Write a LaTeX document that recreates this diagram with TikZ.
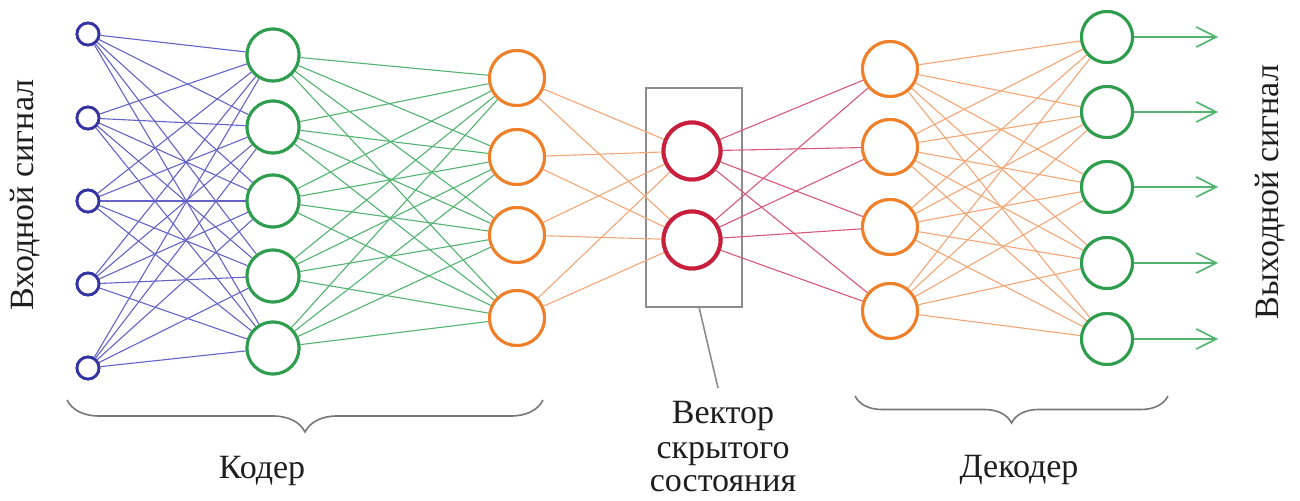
\documentclass[tikz,border=0pt]{standalone}
\usepackage{fontspec}
\setmainfont{Liberation Serif}
\usetikzlibrary{arrows.meta,decorations.pathreplacing}
\definecolor{cblue}{HTML}{3434A4}
\definecolor{cbluel}{HTML}{6464C8}
\definecolor{cgreen}{HTML}{2E9E4E}
\definecolor{cgreenl}{HTML}{52B470}
\definecolor{corange}{HTML}{F07F2A}
\definecolor{corangel}{HTML}{F4A676}
\definecolor{cred}{HTML}{C8203C}
\definecolor{credl}{HTML}{D8587A}
\definecolor{cgray}{HTML}{8C8C8C}
\definecolor{ctext}{HTML}{1E1E1E}
\tikzset{
  neuron/.style={circle,draw,fill=white,inner sep=0pt,line width=1.5pt},
  inneuron/.style={neuron,draw=cblue,minimum size=11pt,line width=1.4pt},
  gneuron/.style={neuron,draw=cgreen,minimum size=26pt},
  oneuron/.style={neuron,draw=corange,minimum size=27.5pt},
  rneuron/.style={neuron,draw=cred,minimum size=28.5pt,line width=2pt},
  link/.style={line width=0.55pt},
  lbl/.style={text=ctext,font=\fontsize{17}{17}\selectfont,inner sep=0pt},
  bracestyle/.style={draw=cgray!85!black,line width=0.8pt,decorate},
  outarrow/.style={draw=cgreenl,line width=1pt,-{Straight Barb[length=10pt,width=10pt,line width=0.8pt]}}
}
\begin{document}
\begin{tikzpicture}[x=0.5pt,y=-0.5pt]
\useasboundingbox (0,0) rectangle (1300,501);
% box
\node[draw=cgray,line width=1pt,minimum width=48pt,minimum height=109.5pt,inner sep=0pt] (box) at (694,197.5) {};
% layers
\foreach \y [count=\i] in {34,118,201,284,368} \node[inneuron] (i\i) at (88,\y) {};
\foreach \y [count=\i] in {55,127,201,276,348} \node[gneuron] (g\i) at (273,\y) {};
\foreach \y [count=\i] in {78,157,235,318} \node[oneuron] (o\i) at (517,\y) {};
\foreach \y [count=\i] in {151,240} \node[rneuron] (r\i) at (692,\y) {};
\foreach \y [count=\i] in {69,147,227,311} \node[oneuron] (d\i) at (890,\y) {};
\foreach \y [count=\i] in {37,112,187,263,339} {
  \node[gneuron,minimum size=25.5pt] (p\i) at (1107,\y) {};
  \coordinate (e\i) at (1218,\y);
}
% links
\foreach \a in {1,...,5} \foreach \b in {1,...,5} \draw[link,draw=cbluel] (i\a) -- (g\b);
\foreach \a in {1,...,5} \foreach \b in {1,...,4} \draw[link,draw=cgreenl] (g\a) -- (o\b);
\foreach \a in {1,...,4} \foreach \b in {1,2} \draw[link,draw=corangel] (o\a) -- (r\b);
\foreach \a in {1,2} \foreach \b in {1,...,4} \draw[link,draw=credl] (r\a) -- (d\b);
\foreach \a in {1,...,4} \foreach \b in {1,...,5} \draw[link,draw=corangel] (d\a) -- (p\b);
% redraw circles on top
\foreach \i in {1,...,5} \node[inneuron] at (i\i) {};
\foreach \i in {1,...,5} \node[gneuron] at (g\i) {};
\foreach \i in {1,...,4} \node[oneuron] at (o\i) {};
\foreach \i in {1,2} \node[rneuron] at (r\i) {};
\foreach \i in {1,...,4} \node[oneuron] at (d\i) {};
\foreach \i in {1,...,5} \node[gneuron,minimum size=25.5pt] at (p\i) {};
% output arrows
\foreach \i in {1,...,5} \draw[outarrow] (p\i) -- (e\i);
% pointer
\coordinate (ls) at (699,307);
\coordinate (le) at (718,388);
\draw[draw=cgray,line width=0.8pt] (ls) -- (le);
% braces
\coordinate (eb1) at (67,400);
\coordinate (eb2) at (543,400);
\coordinate (db1) at (855,396);
\coordinate (db2) at (1168,396);
\draw[bracestyle,decoration={brace,mirror,amplitude=16pt}] (eb1) -- (eb2);
\draw[bracestyle,decoration={brace,mirror,amplitude=13.5pt}] (db1) -- (db2);
% labels
\node[lbl,anchor=base] (enc) at (262,479) {Кодер};
\node[lbl,anchor=base] (dec) at (1019,478) {Декодер};
\node[lbl,align=center,anchor=base] (lat) at (723,492) {Вектор\\скрытого\\состояния};
\node[lbl,rotate=90] (inlbl) at (25,195) {Входной сигнал};
\node[lbl,rotate=90] (outlbl) at (1270,192) {Выходной сигнал};
\end{tikzpicture}
\end{document}
